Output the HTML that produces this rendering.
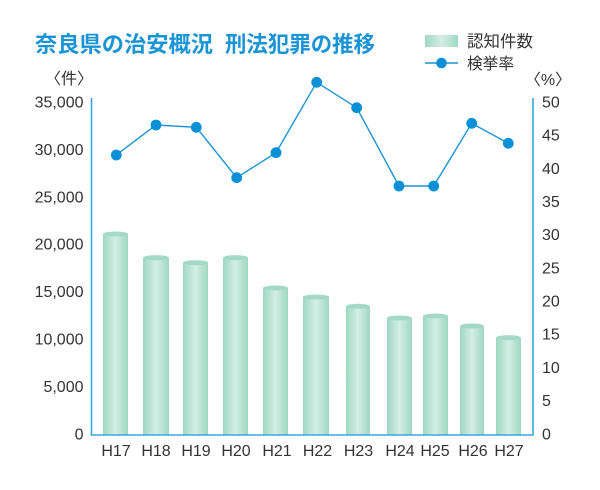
<!DOCTYPE html>
<html><head><meta charset="utf-8"><style>
html,body{margin:0;padding:0;background:#fff;}
svg{display:block;}
text{font-family:"Liberation Sans","Noto Sans CJK JP",sans-serif;}
</style></head><body>
<svg width="600" height="490" viewBox="0 0 600 490" xmlns="http://www.w3.org/2000/svg">
<defs>
<linearGradient id="bg" x1="0" x2="1" y1="0" y2="0">
<stop offset="0" stop-color="#9fd7c3"/>
<stop offset="0.5" stop-color="#d4eee5"/>
<stop offset="1" stop-color="#9fd7c3"/>
</linearGradient>
</defs>
<!-- title -->
<text x="35" y="52" font-size="22" font-weight="bold" fill="#1a94d4" textLength="178" lengthAdjust="spacingAndGlyphs">奈良県の治安概況</text>
<text x="225" y="52" font-size="22" font-weight="bold" fill="#1a94d4" textLength="150" lengthAdjust="spacingAndGlyphs">刑法犯罪の推移</text>
<!-- legend -->
<rect x="425" y="35" width="33" height="12" fill="url(#bg)"/>
<text x="467" y="47" font-size="16.5" fill="#333" textLength="66" lengthAdjust="spacingAndGlyphs">認知件数</text>
<line x1="425" y1="63" x2="458" y2="63" stroke="#1a94d4" stroke-width="1.5"/>
<circle cx="441.5" cy="63" r="5.3" fill="#0a90d6"/>
<text x="467" y="69" font-size="16" fill="#333" textLength="47" lengthAdjust="spacingAndGlyphs">検挙率</text>
<!-- units -->
<text x="69" y="84" font-size="16" fill="#333" text-anchor="middle">〈件〉</text>
<text x="548" y="85" font-size="16" fill="#333" text-anchor="middle">〈%〉</text>
<!-- left ticks -->
<g font-size="16" fill="#333" text-anchor="end">
<text x="83.5" y="107.5">35,000</text>
<text x="83.5" y="154.9">30,000</text>
<text x="83.5" y="202.3">25,000</text>
<text x="83.5" y="249.7">20,000</text>
<text x="83.5" y="297.1">15,000</text>
<text x="83.5" y="344.5">10,000</text>
<text x="83.5" y="391.9">5,000</text>
<text x="83.5" y="439.3">0</text>
</g>
<!-- right ticks -->
<g font-size="16" fill="#333">
<text x="542" y="107.5">50</text>
<text x="542" y="140.7">45</text>
<text x="542" y="173.8">40</text>
<text x="542" y="207.0">35</text>
<text x="542" y="240.2">30</text>
<text x="542" y="273.4">25</text>
<text x="542" y="306.5">20</text>
<text x="542" y="339.7">15</text>
<text x="542" y="372.9">10</text>
<text x="542" y="406.1">5</text>
<text x="542" y="439.3">0</text>
</g>
<!-- bars -->
<g>
<rect x="103" y="234" width="25" height="201" fill="url(#bg)"/><ellipse cx="115.5" cy="234" rx="12.5" ry="2.5" fill="#a3d9c6"/>
<rect x="143" y="257.7" width="26" height="177.3" fill="url(#bg)"/><ellipse cx="156" cy="257.7" rx="13" ry="2.5" fill="#a3d9c6"/>
<rect x="183" y="262.7" width="25" height="172.3" fill="url(#bg)"/><ellipse cx="195.5" cy="262.7" rx="12.5" ry="2.5" fill="#a3d9c6"/>
<rect x="223" y="257.7" width="25" height="177.3" fill="url(#bg)"/><ellipse cx="235.5" cy="257.7" rx="12.5" ry="2.5" fill="#a3d9c6"/>
<rect x="263" y="288" width="25" height="147" fill="url(#bg)"/><ellipse cx="275.5" cy="288" rx="12.5" ry="2.5" fill="#a3d9c6"/>
<rect x="303" y="297" width="26" height="138" fill="url(#bg)"/><ellipse cx="316" cy="297" rx="13" ry="2.5" fill="#a3d9c6"/>
<rect x="346" y="306.3" width="24" height="128.7" fill="url(#bg)"/><ellipse cx="358" cy="306.3" rx="12" ry="2.5" fill="#a3d9c6"/>
<rect x="387" y="318" width="25" height="117" fill="url(#bg)"/><ellipse cx="399.5" cy="318" rx="12.5" ry="2.5" fill="#a3d9c6"/>
<rect x="423" y="316" width="25" height="119" fill="url(#bg)"/><ellipse cx="435.5" cy="316" rx="12.5" ry="2.5" fill="#a3d9c6"/>
<rect x="460" y="326" width="24" height="109" fill="url(#bg)"/><ellipse cx="472" cy="326" rx="12" ry="2.5" fill="#a3d9c6"/>
<rect x="496" y="337.7" width="25" height="97.3" fill="url(#bg)"/><ellipse cx="508.5" cy="337.7" rx="12.5" ry="2.5" fill="#a3d9c6"/>
</g>
<!-- axes -->
<g stroke="#3aa6dd" stroke-width="1.6" fill="none">
<line x1="91.5" y1="98" x2="91.5" y2="435.5"/>
<line x1="533" y1="98" x2="533" y2="435.5"/>
<line x1="90.7" y1="435" x2="533.8" y2="435"/>
</g>
<!-- x labels -->
<g font-size="16" fill="#333" text-anchor="middle">
<text x="116" y="456">H17</text>
<text x="156" y="456">H18</text>
<text x="196" y="456">H19</text>
<text x="236" y="456">H20</text>
<text x="277" y="456">H21</text>
<text x="317.5" y="456">H22</text>
<text x="358.5" y="456">H23</text>
<text x="400" y="456">H24</text>
<text x="435" y="456">H25</text>
<text x="473" y="456">H26</text>
<text x="509" y="456">H27</text>
</g>
<!-- line -->
<polyline fill="none" stroke="#1a94d4" stroke-width="1.4" points="116.3,155 156,125 196.3,127.3 236.7,177.7 276,152.7 316.7,82.3 356.7,107.7 399,186 433.7,186 471.7,123.3 508.3,143.3"/>
<g fill="#0a90d6">
<circle cx="116.3" cy="155" r="5.4"/>
<circle cx="156" cy="125" r="5.4"/>
<circle cx="196.3" cy="127.3" r="5.4"/>
<circle cx="236.7" cy="177.7" r="5.4"/>
<circle cx="276" cy="152.7" r="5.4"/>
<circle cx="316.7" cy="82.3" r="5.4"/>
<circle cx="356.7" cy="107.7" r="5.4"/>
<circle cx="399" cy="186" r="5.4"/>
<circle cx="433.7" cy="186" r="5.4"/>
<circle cx="471.7" cy="123.3" r="5.4"/>
<circle cx="508.3" cy="143.3" r="5.4"/>
</g>
</svg>
</body></html>
